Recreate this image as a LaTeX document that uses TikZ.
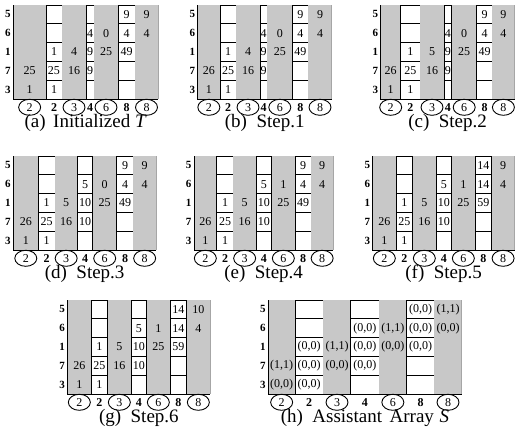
\documentclass[tikz,border=0pt]{standalone}
\usepackage{fontspec}
\setmainfont{Liberation Serif}
\usetikzlibrary{shapes.geometric}
\definecolor{colgray}{HTML}{C8C8C8}
\newcommand{\rh}{18.8}
% middle of column #2 of edge list #1
\newcommand{\colmid}[2]{%
  \pgfmathsetmacro\xl{{#1}[#2-1]}\pgfmathsetmacro\xr{{#1}[#2]}%
  \pgfmathsetmacro\xm{(\xl+\xr)/2}}
% one panel: name, column edges, top, cells row/col/value, caption
\newcommand{\panel}[5]{%
  \foreach \i in {1,...,7}{%
    \colmid{#2}{\i}%
    \ifodd\i\relax
      \fill[colgray] (\xl,#3) rectangle (\xr,#3+5*\rh);
    \else
      \foreach \r in {0,...,4}{\draw[cellbox] (\xl,#3+\r*\rh) rectangle (\xr,#3+\r*\rh+\rh);}
    \fi
  }
  \pgfmathsetmacro\xa{{#2}[0]}\pgfmathsetmacro\xb{{#2}[7]}
  \draw[edge] (\xb,#3) -- (\xb,#3+5*\rh);
  \draw[axis] (\xa,#3) -- (\xa,#3+5*\rh) -- (\xb,#3+5*\rh);
  \foreach \l [count=\r] in {5,6,1,7,3}
    \node[rowlab] (#1-l\l) at (\xa-2.5,#3+\r*\rh-0.5*\rh) {\l};
  \foreach \r/\i/\v in {#4}{%
    \colmid{#2}{\i}%
    \node[num] (#1-\r\i) at (\xm,#3+\r*\rh-0.5*\rh) {\v};
  }
  \foreach \i/\l in {1/2,3/3,5/6,7/8}{%
    \colmid{#2}{\i}%
    \node[ring] (#1-c\i) at (\xm,#3+5*\rh+8.3) {\l};
  }
  \foreach \i/\l in {2/2,4/4,6/8}{%
    \colmid{#2}{\i}%
    \node[collab] (#1-c\i) at (\xm,#3+5*\rh+8.3) {\l};
  }
  \node[capt] (#1-cap) at ({(\xa+\xb)/2},#3+5*\rh+28) {#5};
}
\begin{document}
\begin{tikzpicture}[x=1pt,y=-1pt, cellbox/.style={draw=black,line width=0.8pt}, axis/.style={draw=black,line width=0.9pt}, edge/.style={draw=gray!70,line width=0.5pt}, num/.style={font=\fontsize{12}{12}\selectfont,inner sep=0pt}, rowlab/.style={font=\fontsize{11}{11}\selectfont\bfseries,anchor=east,inner sep=0pt}, ring/.style={draw,ellipse,minimum width=22pt,minimum height=16pt,inner sep=0pt,line width=0.9pt,font=\fontsize{12}{12}\selectfont}, collab/.style={font=\fontsize{12}{12}\selectfont\bfseries,inner sep=0pt}, capt/.style={font=\fontsize{19}{19}\selectfont,inner sep=0pt,anchor=base}]
\fill[white] (0,0) rectangle (515,437);
\useasboundingbox (0,0) rectangle (515,437);
\panel{a}{13.3,46,62,86,94,118,135,158}{5}{1/6/9,1/7/9,2/4/4,2/5/0,2/6/4,2/7/4,3/2/1,3/3/4,3/4/9,3/5/25,3/6/49,4/1/25,4/2/25,4/3/16,4/4/9,5/1/1,5/2/1}{(a)\hspace{0.4em}Initialized \textit{T}}
\panel{b}{197.7,220,236,260,267.3,292.3,308.3,331.7}{5}{1/6/9,1/7/9,2/4/4,2/5/0,2/6/4,2/7/4,3/2/1,3/3/4,3/4/9,3/5/25,3/6/49,4/1/26,4/2/25,4/3/16,4/4/9,5/1/1,5/2/1}{(b)\hspace{0.5em}Step.1}
\panel{c}{380.7,400.7,420,444,451.7,476.7,492.3,514.5}{5}{1/6/9,1/7/9,2/4/4,2/5/0,2/6/4,2/7/4,3/2/1,3/3/5,3/4/9,3/5/25,3/6/49,4/1/26,4/2/25,4/3/16,4/4/9,5/1/1,5/2/1}{(c)\hspace{0.5em}Step.2}
\panel{d}{13.3,38.3,55,77.3,92.7,116.7,133.3,156}{156}{1/6/9,1/7/9,2/4/5,2/5/0,2/6/4,2/7/4,3/2/1,3/3/5,3/4/10,3/5/25,3/6/49,4/1/26,4/2/25,4/3/16,4/4/10,5/1/1,5/2/1}{(d)\hspace{0.5em}Step.3}
\panel{e}{194,216.7,233.3,256,271.7,295,311,333.3}{156}{1/6/9,1/7/9,2/4/5,2/5/1,2/6/4,2/7/4,3/2/1,3/3/5,3/4/10,3/5/25,3/6/49,4/1/26,4/2/25,4/3/16,4/4/10,5/1/1,5/2/1}{(e)\hspace{0.5em}Step.4}
\panel{f}{372.7,396,412.7,436,451.7,475,491.7,514.5}{156}{1/6/14,1/7/9,2/4/5,2/5/1,2/6/14,2/7/4,3/2/1,3/3/5,3/4/10,3/5/25,3/6/59,4/1/26,4/2/25,4/3/16,4/4/10,5/1/1,5/2/1}{(f)\hspace{0.5em}Step.5}
\panel{g}{67.7,91,107.7,131,146.7,170,186.7,210}{300}{1/6/14,1/7/10,2/4/5,2/5/1,2/6/14,2/7/4,3/2/1,3/3/5,3/4/10,3/5/25,3/6/59,4/1/26,4/2/25,4/3/16,4/4/10,5/1/1,5/2/1}{(g)\hspace{0.5em}Step.6}
\panel{h}{268.3,295,323.3,350.7,379,406.7,434.3,461.7}{300}{1/6/{(0,0)},1/7/{(1,1)},2/4/{(0,0)},2/5/{(1,1)},2/6/{(0,0)},2/7/{(0,0)},3/2/{(0,0)},3/3/{(1,1)},3/4/{(0,0)},3/5/{(0,0)},3/6/{(0,0)},4/1/{(1,1)},4/2/{(0,0)},4/3/{(0,0)},4/4/{(0,0)},5/1/{(0,0)},5/2/{(0,0)}}{(h)\hspace{0.5em}Assistant\hspace{0.4em}Array\hspace{0.3em}\textit{S}}
\end{tikzpicture}
\end{document}
